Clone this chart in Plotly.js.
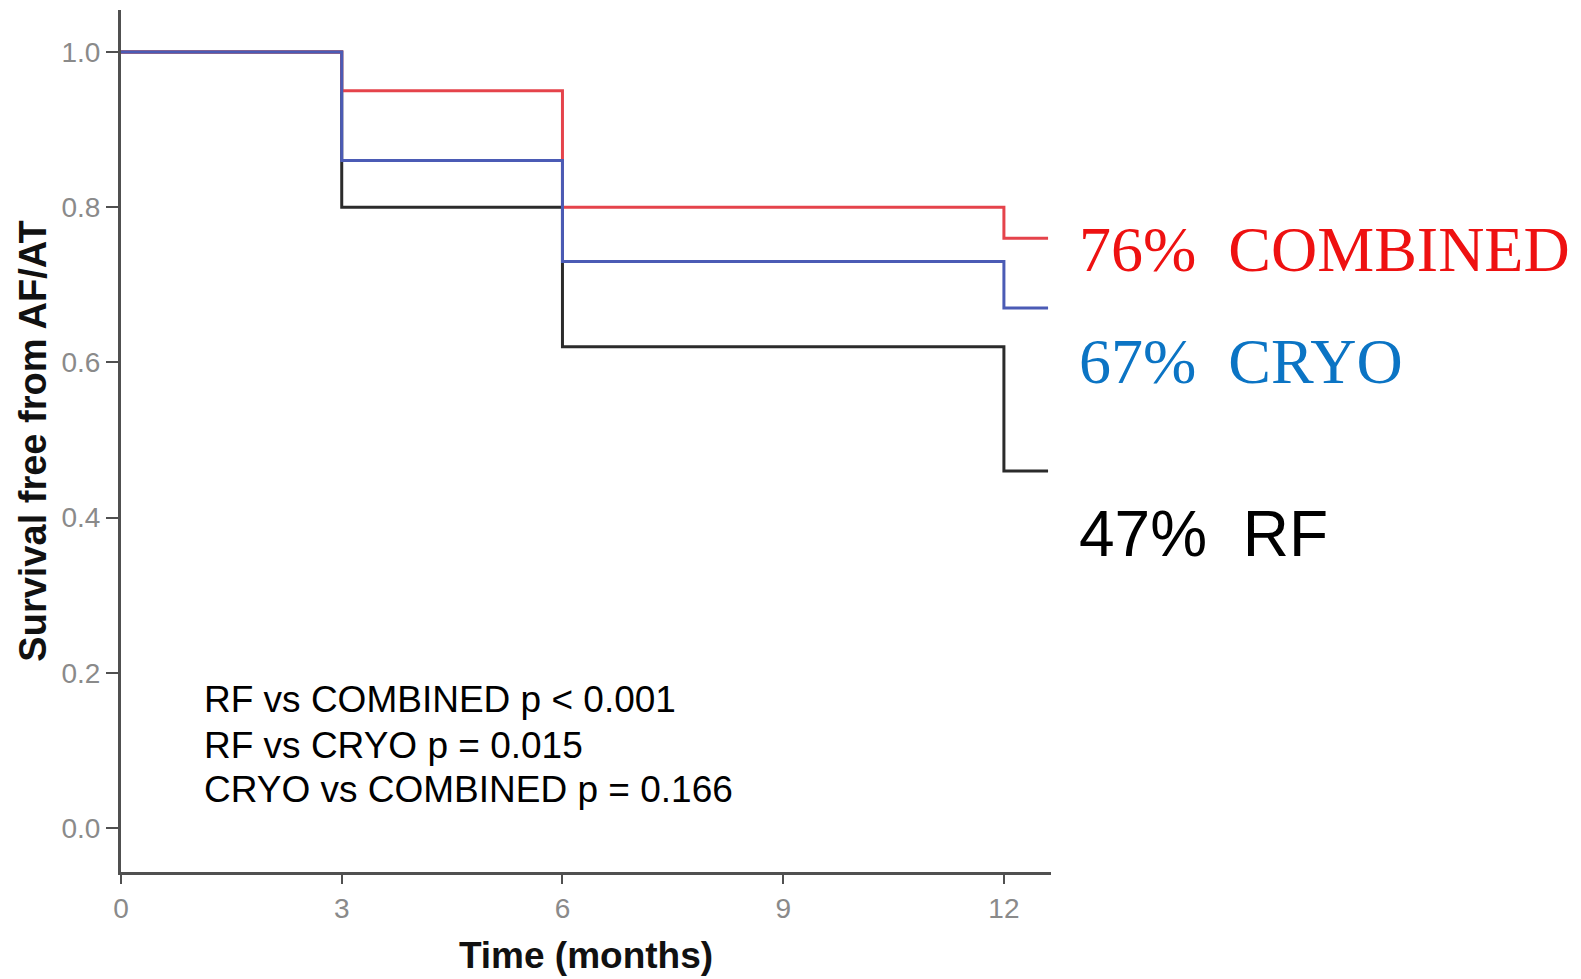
<!DOCTYPE html>
<html>
<head>
<meta charset="utf-8">
<script src="https://cdn.plot.ly/plotly-3.0.1.min.js"></script>
<style>html,body{margin:0;padding:0;background:#fff;}#chart{width:1581px;height:979px;}</style>
</head>
<body>
<div id="chart"></div>
<script>
// Time points (months); last point = end of follow-up
const timeMonths = [0, 3, 6, 12, 12.6];
const survivalCombined = [1.0, 0.95, 0.80, 0.76, 0.76];
const survivalCryo = [1.0, 0.86, 0.73, 0.67, 0.67];
const survivalRF = [1.0, 0.80, 0.62, 0.46, 0.46];
const xTickVals = [0, 3, 6, 9, 12];
const yTickVals = [0.0, 0.2, 0.4, 0.6, 0.8, 1.0];
const yTickText = ["0.0", "0.2", "0.4", "0.6", "0.8", "1.0"];
const endLabels = ["76%  COMBINED", "67%  CRYO", "47%  RF"];
const pValueLines = ["RF vs COMBINED p < 0.001", "RF vs CRYO p = 0.015", "CRYO vs COMBINED p = 0.166"];

const mk = (y, color, name) => ({
  x: timeMonths, y: y, type: 'scatter', mode: 'lines', name: name,
  line: {shape: 'hv', color: color, width: 3}, hoverinfo: 'skip'
});

const data = [
  mk(survivalRF, '#2b2b2b', 'RF'),
  mk(survivalCombined, '#e5434b', 'COMBINED'),
  mk(survivalCryo, '#4b5bb5', 'CRYO')
];

const plotL = 121, plotR = 1051, plotT = 10, plotB = 872;
const px2paperX = px => (px - plotL) / (plotR - plotL);
const px2paperY = py => (plotB - py) / (plotB - plotT);

const tickFont = {family: 'Liberation Sans, Arial, sans-serif', size: 28, color: '#8a8a8a'};

const layout = {
  width: 1581, height: 979,
  margin: {l: 121, r: 530, t: 10, b: 107},
  paper_bgcolor: '#fff', plot_bgcolor: '#fff',
  showlegend: false,
  xaxis: {
    range: [0, 12.64], tickvals: xTickVals, ticktext: xTickVals.map(String),
    showgrid: false, zeroline: false, showline: true, linecolor: '#505050', linewidth: 3,
    ticks: 'outside', ticklen: 9, tickwidth: 2, tickcolor: '#505050',
    tickfont: tickFont,
    title: {text: 'Time (months)', standoff: 20,
      font: {family: 'Liberation Sans, Arial, sans-serif', size: 37, color: '#111', weight: 'bold'}}
  },
  yaxis: {
    range: [-0.0567, 1.054], tickvals: yTickVals, ticktext: yTickText,
    showgrid: false, zeroline: false, showline: true, linecolor: '#505050', linewidth: 3,
    ticks: 'outside', ticklen: 12, tickwidth: 2, tickcolor: '#505050',
    tickfont: tickFont,
    title: {text: 'Survival free from AF/AT', standoff: 4,
      font: {family: 'Liberation Sans, Arial, sans-serif', size: 38, color: '#111', weight: 'bold'}}
  },
  annotations: [
    {x: px2paperX(1077), y: px2paperY(249), xref: 'paper', yref: 'paper', xanchor: 'left', yanchor: 'middle',
     text: endLabels[0], showarrow: false,
     font: {family: 'Liberation Serif, Times New Roman, serif', size: 64, color: '#ee1111'}},
    {x: px2paperX(1077), y: px2paperY(361), xref: 'paper', yref: 'paper', xanchor: 'left', yanchor: 'middle',
     text: endLabels[1], showarrow: false,
     font: {family: 'Liberation Serif, Times New Roman, serif', size: 64, color: '#0b74c4'}},
    {x: px2paperX(1077), y: px2paperY(534), xref: 'paper', yref: 'paper', xanchor: 'left', yanchor: 'middle',
     text: endLabels[2], showarrow: false,
     font: {family: 'Liberation Sans, Arial, sans-serif', size: 64, color: '#000'}}
  ]
};

const pY = [699, 745, 789];
pValueLines.forEach((t, i) => {
  layout.annotations.push({x: px2paperX(202), y: px2paperY(pY[i]), xref: 'paper', yref: 'paper',
    xanchor: 'left', yanchor: 'middle', text: t, showarrow: false,
    font: {family: 'Liberation Sans, Arial, sans-serif', size: 37, color: '#000'}});
});

Plotly.newPlot('chart', data, layout, {displayModeBar: false, staticPlot: true});
</script>
</body>
</html>
